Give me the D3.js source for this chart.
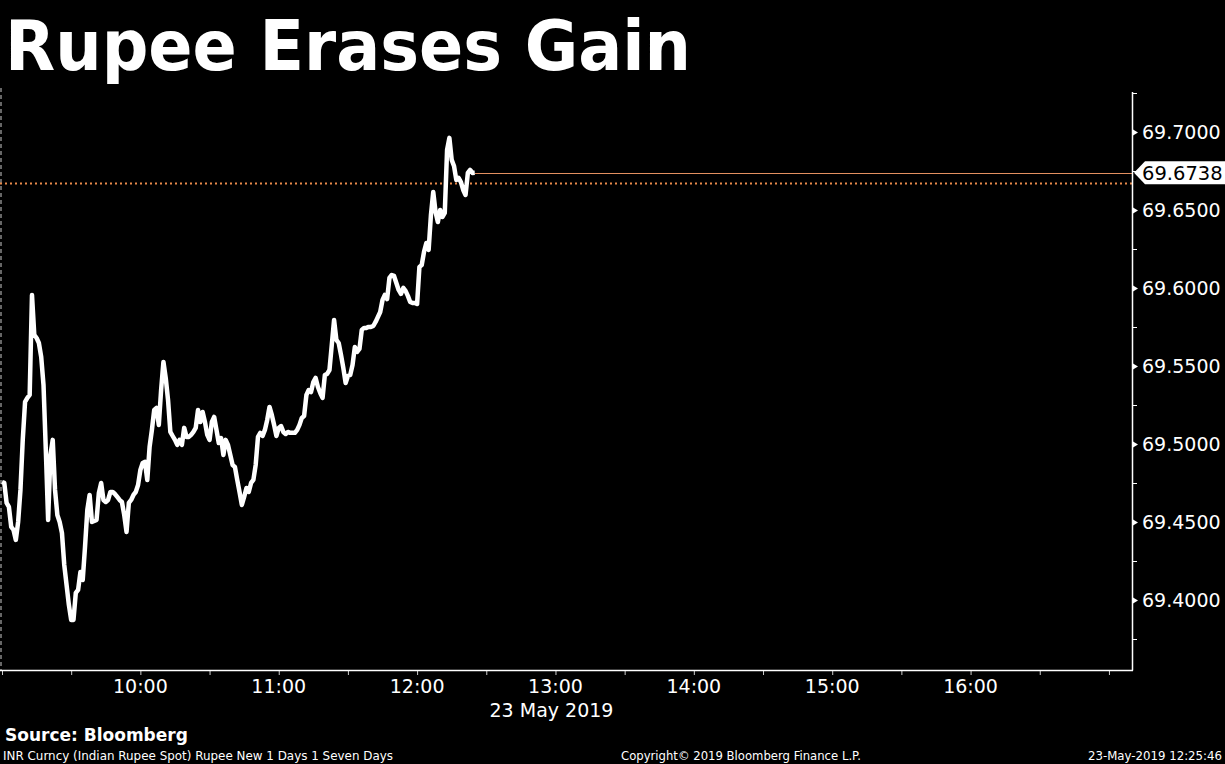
<!DOCTYPE html>
<html>
<head>
<meta charset="utf-8">
<script src="https://cdn.jsdelivr.net/npm/d3@7"></script>
<style>
  html, body { margin: 0; padding: 0; background: #000; }
  svg { display: block; }
  text { font-family: "DejaVu Sans", sans-serif; fill: #fff; }
</style>
</head>
<body>
<svg id="chart"></svg>
<script>
// INR spot, 23 May 2019, one reading per minute from the open
let startTime = "09:00";
let endTime = "17:10";
let values = [
  69.4756, 69.4750, 69.4622, 69.4596, 69.4468, 69.4449, 69.4385, 69.4500, 69.4705, 69.5026,
  69.5269, 69.5295, 69.5314, 69.5955, 69.5699, 69.5679, 69.5647, 69.5558, 69.5378, 69.4962,
  69.4513, 69.4929, 69.5026, 69.4705, 69.4545, 69.4500, 69.4429, 69.4224, 69.4096, 69.3968,
  69.3872, 69.3872, 69.4045, 69.4064, 69.4179, 69.4128, 69.4340, 69.4577, 69.4673, 69.4500,
  69.4506, 69.4513, 69.4686, 69.4750, 69.4641, 69.4628, 69.4641, 69.4692, 69.4692, 69.4679,
  69.4660, 69.4641, 69.4628, 69.4545, 69.4436, 69.4622, 69.4641, 69.4673, 69.4692, 69.4737,
  69.4833, 69.4878, 69.4885, 69.4769, 69.4981, 69.5090, 69.5218, 69.5231, 69.5122, 69.5346,
  69.5526, 69.5423, 69.5282, 69.5077, 69.5051, 69.5026, 69.4994, 69.5026, 69.4994, 69.5103,
  69.5045, 69.5045, 69.5058, 69.5077, 69.5103, 69.5218, 69.5141, 69.5205, 69.5141, 69.5058,
  69.5026, 69.5141, 69.5173, 69.5090, 69.5006, 69.5038, 69.4929, 69.5026, 69.4994, 69.4929,
  69.4865, 69.4853, 69.4769, 69.4692, 69.4609, 69.4660, 69.4718, 69.4692, 69.4750, 69.4769,
  69.4865, 69.5045, 69.5071, 69.5051, 69.5090, 69.5154, 69.5237, 69.5186, 69.5122, 69.5051,
  69.5103, 69.5115, 69.5077, 69.5064, 69.5077, 69.5071, 69.5071, 69.5071, 69.5090, 69.5122,
  69.5167, 69.5179, 69.5314, 69.5346, 69.5333, 69.5397, 69.5423, 69.5365, 69.5327, 69.5295,
  69.5442, 69.5449, 69.5474, 69.5635, 69.5795, 69.5667, 69.5647, 69.5571, 69.5487, 69.5391,
  69.5436, 69.5442, 69.5506, 69.5622, 69.5590, 69.5609, 69.5731, 69.5744, 69.5744, 69.5750,
  69.5750, 69.5756, 69.5782, 69.5814, 69.5846, 69.5923, 69.5955, 69.5929, 69.6064, 69.6083,
  69.6077, 69.6032, 69.5987, 69.5962, 69.6000, 69.5981, 69.5949, 69.5910, 69.5904, 69.5904,
  69.5897, 69.6135, 69.6147, 69.6231, 69.6288, 69.6244, 69.6468, 69.6615, 69.6487, 69.6423,
  69.6500, 69.6455, 69.6481, 69.6885, 69.6962, 69.6821, 69.6782, 69.6692, 69.6705, 69.6679,
  69.6628, 69.6596, 69.6737, 69.6756, 69.6737, 69.6738
];
let lastValue = 69.6738;
let prevClose = 69.6670;
let yTicks = [69.40, 69.45, 69.50, 69.55, 69.60, 69.65, 69.70];
let yMinorTicks = [69.375, 69.425, 69.475, 69.525, 69.575, 69.625, 69.675, 69.725];
let xLabelHours = ["10:00", "11:00", "12:00", "13:00", "14:00", "15:00", "16:00"];
let dateLabel = "23 May 2019";
let title = "Rupee Erases Gain";
let source = "Source: Bloomberg";
let footLeft = "INR Curncy (Indian Rupee Spot) Rupee New 1 Days 1 Seven Days";
let footMid = "Copyright\u00A9 2019 Bloomberg Finance L.P.";
let footRight = "23-May-2019 12:25:46";

let w = 1225, h = 764;
let plot = { left: 2, right: 1132, top: 92, bottom: 670 };

let parseTime = d3.timeParse("%Y-%m-%d %H:%M");
let day = "2019-05-23 ";
let t0 = parseTime(day + startTime);
let data = values.map((v, i) => ({ t: d3.timeMinute.offset(t0, i), v: v }));

let svg = d3.select("#chart").attr("width", w).attr("height", h);

let xScale = d3.scaleTime()
    .domain([t0, parseTime(day + endTime)])
    .range([plot.left, plot.right]);

let yScale = d3.scaleLinear()
    .domain([69.3551, 69.7256])
    .range([plot.bottom, plot.top]);

// title
svg.append("text")
    .attr("x", 5).attr("y", 70)
    .attr("textLength", 686).attr("lengthAdjust", "spacingAndGlyphs")
    .style("font-size", "69px").style("font-weight", "bold")
    .text(title);

// left dashed edge
svg.append("line")
    .attr("x1", 1).attr("x2", 1)
    .attr("y1", 88).attr("y2", plot.bottom)
    .attr("stroke", "#888").attr("stroke-width", 1.5)
    .attr("stroke-dasharray", "4,3");

// previous close dotted line
svg.append("line")
    .attr("x1", 0).attr("x2", plot.right)
    .attr("y1", yScale(prevClose)).attr("y2", yScale(prevClose))
    .attr("stroke", "#e8894a").attr("stroke-width", 2)
    .attr("stroke-dasharray", "2,3");

// last value line
let last = data[data.length - 1];
let lyLine = Math.round(yScale(lastValue)) + 0.5;
svg.append("line")
    .attr("x1", xScale(last.t)).attr("x2", plot.right)
    .attr("y1", lyLine).attr("y2", lyLine)
    .attr("stroke", "#e49060").attr("stroke-width", 1.2);

// price line
let line = d3.line()
    .x(d => xScale(d.t))
    .y(d => yScale(d.v));

svg.append("path")
    .datum(data)
    .attr("d", line)
    .attr("fill", "none")
    .attr("stroke", "#fff")
    .attr("stroke-width", 4.5)
    .attr("stroke-linejoin", "round");

// right axis
let yAxis = d3.axisRight(yScale)
    .tickValues(yTicks)
    .tickSize(0)
    .tickPadding(10)
    .tickFormat(d3.format(".4f"));

let gy = svg.append("g")
    .attr("class", "y axis")
    .attr("transform", "translate(" + plot.right + ",0)")
    .call(yAxis);
gy.select(".domain").remove();
gy.selectAll("text").style("font-size", "19px").style("fill", "#fff");
gy.selectAll(".tick").append("path")
    .attr("d", "M1,-3L6,0L1,3Z")
    .attr("fill", "#fff");

svg.append("g")
    .selectAll("line")
    .data(yMinorTicks)
    .join("line")
    .attr("x1", plot.right).attr("x2", plot.right + 5)
    .attr("y1", d => Math.round(yScale(d)) + 0.5)
    .attr("y2", d => Math.round(yScale(d)) + 0.5)
    .attr("stroke", "#fff");

svg.append("line")
    .attr("x1", plot.right + 0.5).attr("x2", plot.right + 0.5)
    .attr("y1", plot.top).attr("y2", plot.bottom + 0.5)
    .attr("stroke", "#fff").attr("stroke-width", 1.5);

// bottom axis
let xAxis = d3.axisBottom(xScale)
    .ticks(d3.timeMinute.every(30))
    .tickSize(5)
    .tickFormat("");

let gx = svg.append("g")
    .attr("class", "x axis")
    .attr("transform", "translate(0," + plot.bottom + ")")
    .call(xAxis);
gx.select(".domain").remove();
gx.selectAll(".tick line").attr("stroke", "#ccc");

svg.append("line")
    .attr("x1", 0).attr("x2", plot.right + 1)
    .attr("y1", plot.bottom + 0.5).attr("y2", plot.bottom + 0.5)
    .attr("stroke", "#fff").attr("stroke-width", 1.5);

svg.append("g")
    .selectAll("text")
    .data(xLabelHours)
    .join("text")
    .attr("x", d => xScale(parseTime(day + d)))
    .attr("y", 693)
    .attr("text-anchor", "middle")
    .style("font-size", "19px")
    .text(d => d);

svg.append("text")
    .attr("x", xScale(parseTime(day + "13:00")) - 4)
    .attr("y", 717)
    .attr("text-anchor", "middle")
    .style("font-size", "19px")
    .text(dateLabel);

// last value tag
let ly = yScale(lastValue);
svg.append("path")
    .attr("d", "M1134," + ly + "L1145," + (ly - 11.5) + "L1225," + (ly - 11.5) + "L1225," + (ly + 11.5) + "L1145," + (ly + 11.5) + "Z")
    .attr("fill", "#fff");
svg.append("text")
    .attr("x", 1142).attr("y", ly + 7)
    .style("font-size", "19.5px").style("fill", "#000")
    .text(d3.format(".4f")(lastValue));

// footer
svg.append("text")
    .attr("x", 5).attr("y", 741)
    .style("font-size", "17px").style("font-weight", "bold")
    .text(source);

svg.append("text")
    .attr("x", 3).attr("y", 760)
    .attr("textLength", 390).attr("lengthAdjust", "spacingAndGlyphs")
    .style("font-size", "12px")
    .text(footLeft);

svg.append("text")
    .attr("x", 621).attr("y", 760)
    .attr("textLength", 240).attr("lengthAdjust", "spacingAndGlyphs")
    .style("font-size", "12px")
    .text(footMid);

svg.append("text")
    .attr("x", 1222).attr("y", 760)
    .attr("text-anchor", "end")
    .attr("textLength", 134).attr("lengthAdjust", "spacingAndGlyphs")
    .style("font-size", "12px")
    .text(footRight);
</script>
</body>
</html>
